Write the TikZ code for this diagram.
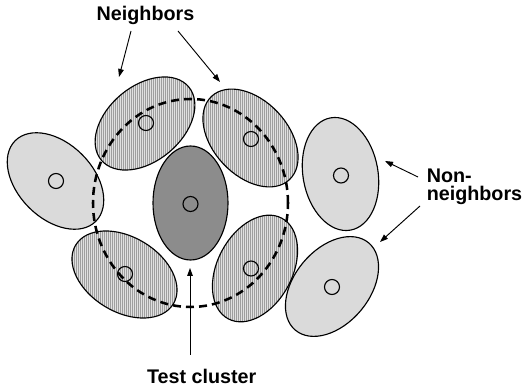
\documentclass[tikz,border=0pt]{standalone}
\usepackage{fontspec}
\setmainfont{Liberation Sans}
\usetikzlibrary{shapes.geometric, arrows.meta, patterns}

% fine vertical stripes for the neighbouring clusters
\pgfdeclarepatternformonly{finevlines}{\pgfqpoint{0pt}{0pt}}{\pgfqpoint{1.6pt}{1pt}}{\pgfqpoint{1.6pt}{1pt}}{%
  \pgfpathrectangle{\pgfqpoint{0pt}{0pt}}{\pgfqpoint{0.55pt}{1pt}}%
  \pgfusepath{fill}}

\definecolor{lightcell}{HTML}{DADADA}
\definecolor{darkcell}{HTML}{8C8C8C}
\definecolor{hatchbg}{HTML}{E0E0E0}
\definecolor{hatchln}{HTML}{7C7C7C}

\tikzset{
  cell/.style={ellipse, draw, line width=0.85pt, inner sep=0pt,
    minimum width=85.5pt, minimum height=56.25pt},
  plaincell/.style={cell, fill=lightcell},
  hatchcell/.style={cell, preaction={fill=hatchbg}, pattern=finevlines, pattern color=hatchln},
  testcell/.style={cell, fill=darkcell},
  core/.style={circle, draw, line width=0.85pt, inner sep=0pt, minimum size=11.25pt},
  ring/.style={ellipse, draw, line width=1.9pt, dash pattern=on 6pt off 3.8pt,
    inner sep=0pt, minimum width=146.25pt, minimum height=156pt},
  pointer/.style={-{Triangle[length=6pt,width=4.2pt]}, line width=0.7pt},
  lbl/.style={font=\fontsize{14.8}{13.4}\selectfont\bfseries, inner sep=0pt}
}

\begin{document}
\begin{tikzpicture}[x=0.75pt, y=-0.75pt]
  \useasboundingbox (0,0) rectangle (522,392);

  % clusters
  \node[plaincell, rotate=-45] (nA) at (55.5,181) {};
  \node[hatchcell, rotate=40]  (nB) at (145,123.5) {};
  \node[hatchcell, rotate=-47] (nC) at (250.5,138) {};
  \node[testcell, rotate=90]   (tc) at (190.5,203) {};
  \node[hatchcell, rotate=-31] (nD) at (124.5,274.5) {};
  \node[hatchcell, rotate=62]  (nE) at (255,268.5) {};
  \node[plaincell, rotate=100] (nF) at (340.5,174) {};
  \node[plaincell, rotate=50]  (nG) at (332,286.5) {};

  % cluster centres
  \node[core] (cA) at (56,181) {};
  \node[core] (cB) at (146,123) {};
  \node[core] (cC) at (251,139) {};
  \node[core] (cT) at (190.5,204) {};
  \node[core] (cD) at (125,274) {};
  \node[core] (cE) at (251,268.5) {};
  \node[core] (cF) at (341,175.5) {};
  \node[core] (cG) at (332,287) {};

  % neighbourhood boundary
  \node[ring] (hood) at (190.5,203) {};

  % labels
  \node[lbl, anchor=base] (lnb) at (145.5,20.7) {Neighbors};
  \node[lbl, anchor=base] (ltc) at (201.7,383) {Test cluster};
  \node[lbl, anchor=north west, align=left] (lnn) at (426.5,168.3) {Non-\\neighbors};

  % arrow ends
  \coordinate (nbTailL) at (131,31);
  \coordinate (nbHeadL) at (119,77);
  \coordinate (nbTailR) at (178,31);
  \coordinate (nbHeadR) at (220,82);
  \coordinate (nnTailU) at (418,177);
  \coordinate (nnHeadU) at (385,161);
  \coordinate (nnTailD) at (420,206);
  \coordinate (nnHeadD) at (380,242);
  \coordinate (tcTail) at (190,355);
  \coordinate (tcHead) at (190,268);

  \draw[pointer] (nbTailL) -- (nbHeadL);
  \draw[pointer] (nbTailR) -- (nbHeadR);
  \draw[pointer] (nnTailU) -- (nnHeadU);
  \draw[pointer] (nnTailD) -- (nnHeadD);
  \draw[pointer] (tcTail) -- (tcHead);
\end{tikzpicture}
\end{document}
